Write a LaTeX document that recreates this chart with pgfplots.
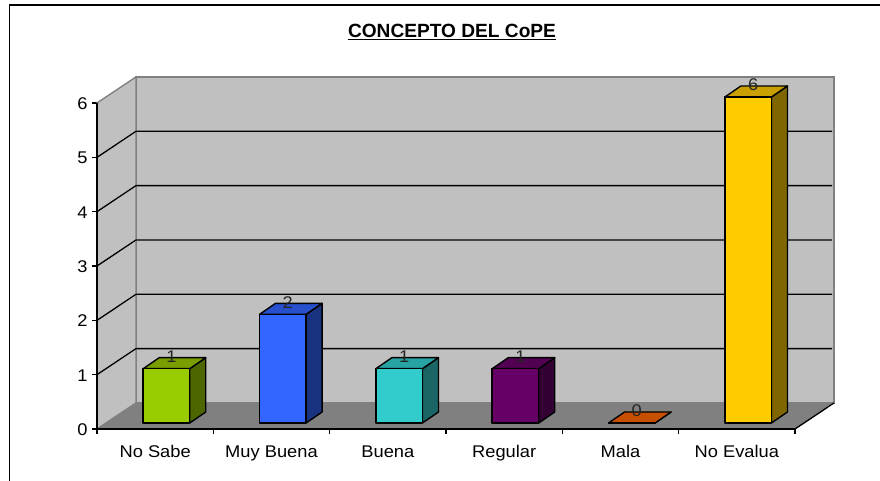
\documentclass[border=0pt]{standalone}
\usepackage{pgfplots}
\pgfplotsset{compat=1.18}
\usepackage{pgfplotstable}
\usepackage{fontspec}
\setmainfont{Liberation Sans}
\newfontfamily\labelfont[FakeStretch=1.08]{Liberation Sans}

% Survey results: position, answer count
\pgfplotstableread{
pos value
0 1
1 2
2 1
3 1
4 0
5 6
}\conceptdata

% Depth offsets, in axis units: front and back of the bars
\def\fx{0.097}\def\fy{0.110}
\def\bx{0.235}\def\by{0.313}
\def\halfbar{0.2}

\definecolor{wall}{HTML}{C0C0C0}
\definecolor{floorgray}{HTML}{808080}
\definecolor{cA}{HTML}{99CC00}\definecolor{cAt}{HTML}{7A9E00}\definecolor{cAs}{HTML}{4D6600}
\definecolor{cB}{HTML}{3366FF}\definecolor{cBt}{HTML}{2850CC}\definecolor{cBs}{HTML}{1A3380}
\definecolor{cC}{HTML}{33CCCC}\definecolor{cCt}{HTML}{28A3A3}\definecolor{cCs}{HTML}{1A6666}
\definecolor{cD}{HTML}{660066}\definecolor{cDt}{HTML}{520052}\definecolor{cDs}{HTML}{330033}
\definecolor{cE}{HTML}{FF6600}\definecolor{cEt}{HTML}{C65000}\definecolor{cEs}{HTML}{803300}
\definecolor{cF}{HTML}{FFCC00}\definecolor{cFt}{HTML}{C9A000}\definecolor{cFs}{HTML}{806600}

% One box: row of the table, colour prefix
\newcommand{\boxbar}[2]{%
  \pgfplotstablegetelem{#1}{value}\of\conceptdata
  \pgfmathsetmacro\v{\pgfplotsretval}%
  \pgfmathsetmacro\xl{#1-\halfbar+\fx}%
  \pgfmathsetmacro\xr{#1+\halfbar+\fx}%
  \pgfmathsetmacro\xL{#1-\halfbar+\bx}%
  \pgfmathsetmacro\xR{#1+\halfbar+\bx}%
  \pgfmathsetmacro\yb{\fy}%
  \pgfmathsetmacro\yt{\v+\fy}%
  \pgfmathsetmacro\Yb{\by}%
  \pgfmathsetmacro\Yt{\v+\by}%
  \edef\drawbox{%
    \noexpand\addplot[fill=#2s,draw=black,line width=1.4pt,line join=round] coordinates
      {(\xr,\yb) (\xR,\Yb) (\xR,\Yt) (\xr,\yt)} -- cycle;
    \noexpand\addplot[fill=#2t,draw=black,line width=1.4pt,line join=round] coordinates
      {(\xl,\yt) (\xr,\yt) (\xR,\Yt) (\xL,\Yt)} -- cycle;
    \noexpand\addplot[fill=#2,draw=black,line width=1.4pt,line join=round] coordinates
      {(\xl,\yb) (\xr,\yb) (\xr,\yt) (\xl,\yt)} -- cycle;
  }\drawbox
}

\begin{document}
\begin{tikzpicture}[x=1bp,y=1bp]
\path[use as bounding box] (0,0) rectangle (880,481);
% Outer chart frame: only the left and top edges show
\draw[black,line width=1.6pt] (9.5,0) -- (9.5,476) -- (880,476);
\node[font=\bfseries\fontsize{19.2}{21}\selectfont,anchor=base,inner sep=0pt] at (452,443) {\underline{CONCEPTO DEL CoPE}};
\begin{axis}[
  at={(97bp,52bp)},anchor=south west,
  scale only axis,width=698bp,height=326bp,
  xmin=-0.5,xmax=5.5,ymin=0,ymax=6,
  clip=false,
  axis x line*=bottom,axis y line*=left,
  axis line style={black,line width=1.3pt,-},
  xtick={0,...,5},
  xticklabels={No Sabe,Muy Buena,Buena,Regular,Mala,No Evalua},
  major x tick style={draw=none},
  minor xtick={-0.5,0.5,...,5.5},
  minor x tick style={black,line width=1.2pt},
  minor tick length=5bp,
  ytick={0,...,6},
  y tick style={black,line width=1.2pt},
  major tick length=5bp,
  tick align=outside,
  tick label style={font=\labelfont\fontsize{17}{19}\selectfont},
  /pgf/number format/assume math mode=true,
  xticklabel style={text height=12bp,text depth=4bp,yshift=-8bp},
  yticklabel style={xshift=-1bp,yshift=-0.7bp},
]
% Walls and floor of the chart box
\addplot[fill=wall,draw=floorgray,line width=1.4pt] coordinates {(-0.165,0.479) (5.835,0.479) (5.835,6.479) (-0.165,6.479)} -- cycle;
\addplot[fill=wall,draw=floorgray,line width=1.4pt] coordinates {(-0.5,0) (-0.165,0.479) (-0.165,6.479) (-0.5,6)} -- cycle;
\addplot[fill=floorgray,draw=none] coordinates {(-0.5,0) (5.5,0) (5.835,0.479) (-0.165,0.479)} -- cycle;
\addplot[black,line width=1.3pt] coordinates {(5.5,0) (5.835,0.479)};
\addplot[black,line width=1.3pt] coordinates {(-0.5,6) (-0.5,0) (5.5,0)};
% Grid lines round the side wall and across the back wall
\pgfplotsinvokeforeach{1,...,5}{
  \addplot[black,line width=1.3pt] coordinates {(-0.5,#1) (-0.165,#1+0.479) (5.82,#1+0.479)};
}
\boxbar{0}{cA}
\boxbar{1}{cB}
\boxbar{2}{cC}
\boxbar{3}{cD}
\boxbar{4}{cE}
\boxbar{5}{cF}
% Value labels sitting on top of each box
\addplot[draw=none,mark=none,
  nodes near coords,point meta=explicit symbolic,
  every node near coord/.style={anchor=center,font=\labelfont\fontsize{17}{19}\selectfont,text=black!85}]
  table[x expr=\thisrow{pos}+0.14,y expr=\thisrow{value}+0.33,meta=value] {\conceptdata};
\end{axis}
\end{tikzpicture}
\end{document}
